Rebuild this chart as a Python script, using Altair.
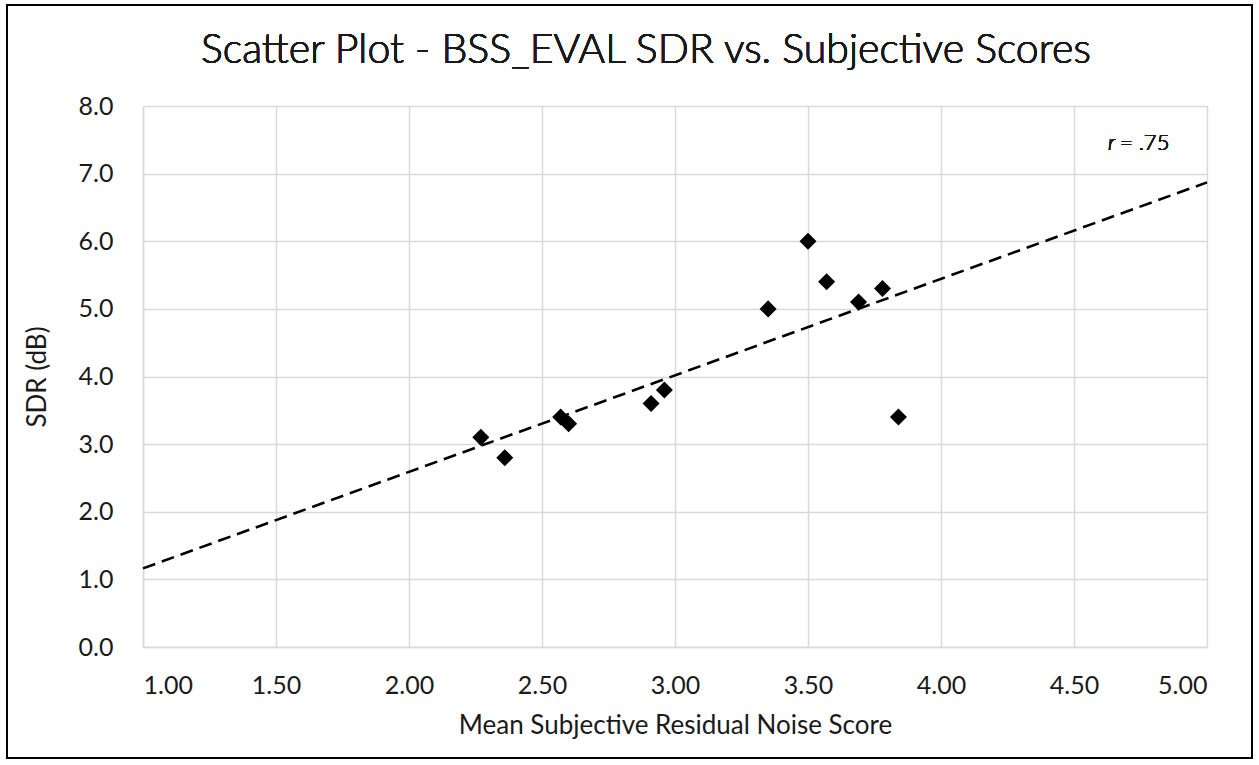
import altair as alt
import pandas as pd

# Mean subjective residual-noise score vs. BSS_EVAL SDR per condition
noise_score = [2.27, 2.36, 2.57, 2.60, 2.91, 2.96, 3.35, 3.50, 3.57, 3.69, 3.78, 3.84]
sdr_db = [3.1, 2.8, 3.4, 3.3, 3.6, 3.8, 5.0, 6.0, 5.4, 5.1, 5.3, 3.4]

x_ticks = [1.0, 1.5, 2.0, 2.5, 3.0, 3.5, 4.0, 4.5, 5.0]
y_ticks = [0, 1, 2, 3, 4, 5, 6, 7, 8]

df = pd.DataFrame({"score": noise_score, "sdr": sdr_db})

FONT = "Lato"
INK = "#1a1a1a"
GRID = "#d9d9d9"

x_enc = alt.X(
    "score:Q",
    scale=alt.Scale(domain=[1, 5], nice=False),
    axis=alt.Axis(
        values=x_ticks, format=".2f", title="Mean Subjective Residual Noise Score",
        grid=True, gridColor=GRID, gridWidth=1.5, domainColor=GRID, domainWidth=1.5,
        ticks=False, labelFontSize=25, labelPadding=26, labelColor=INK,
        titleFontSize=26, titleFontWeight="normal", titleColor=INK, titlePadding=14,
        labelFont=FONT, titleFont=FONT,
    ),
)
y_enc = alt.Y(
    "sdr:Q",
    scale=alt.Scale(domain=[0, 8], nice=False),
    axis=alt.Axis(
        values=y_ticks, format=".1f", title="SDR (dB)",
        grid=True, gridColor=GRID, gridWidth=1.5, domainColor=GRID, domainWidth=1.5,
        ticks=False, labelFontSize=25, labelPadding=30, labelColor=INK,
        titleFontSize=26, titleFontWeight="normal", titleColor=INK, titlePadding=28,
        labelFont=FONT, titleFont=FONT,
    ),
)

points = alt.Chart(df).mark_point(
    shape="diamond", filled=True, size=290, color="black", opacity=1
).encode(x=x_enc, y=y_enc)

trend = alt.Chart(df).transform_regression(
    "score", "sdr", extent=[1, 5]
).mark_line(color="black", strokeWidth=2.6, strokeDash=[13, 7]).encode(
    x="score:Q", y="sdr:Q"
)

r_sym = alt.Chart(df).mark_text(
    text="r", font=FONT, fontStyle="italic", fontWeight=300, fontSize=22,
    color=INK, align="left", baseline="middle"
).encode(x=alt.value(965), y=alt.value(37))
r_val = alt.Chart(df).mark_text(
    text="= .75", font=FONT, fontWeight=300, fontSize=22,
    color=INK, align="left", baseline="middle"
).encode(x=alt.value(977), y=alt.value(37))

# chart heading, placed over the plot area
heading = alt.Chart(df).mark_text(
    text="Scatter Plot - BSS_EVAL SDR vs. Subjective Scores", font=FONT, fontSize=41,
    fontWeight=300, color=INK, align="center", baseline="alphabetic"
).encode(x=alt.value(503), y=alt.value(-43))

# outer frame around the whole figure
frame = alt.Chart(df).mark_rect(
    fill=None, stroke="black", strokeWidth=2
).encode(x=alt.value(-136), x2=alt.value(1109), y=alt.value(-101), y2=alt.value(652))

chart = alt.layer(frame, trend, points, r_sym, r_val, heading).properties(
    width=1064,
    height=541,
    padding={"left": 143, "top": 106, "right": 52, "bottom": 118},
    autosize=alt.AutoSizeParams(type="none"),
).configure_view(stroke=GRID, strokeWidth=1.5).configure(background="white")

chart.save("out.html", embed_options={"renderer": "svg", "actions": False})
